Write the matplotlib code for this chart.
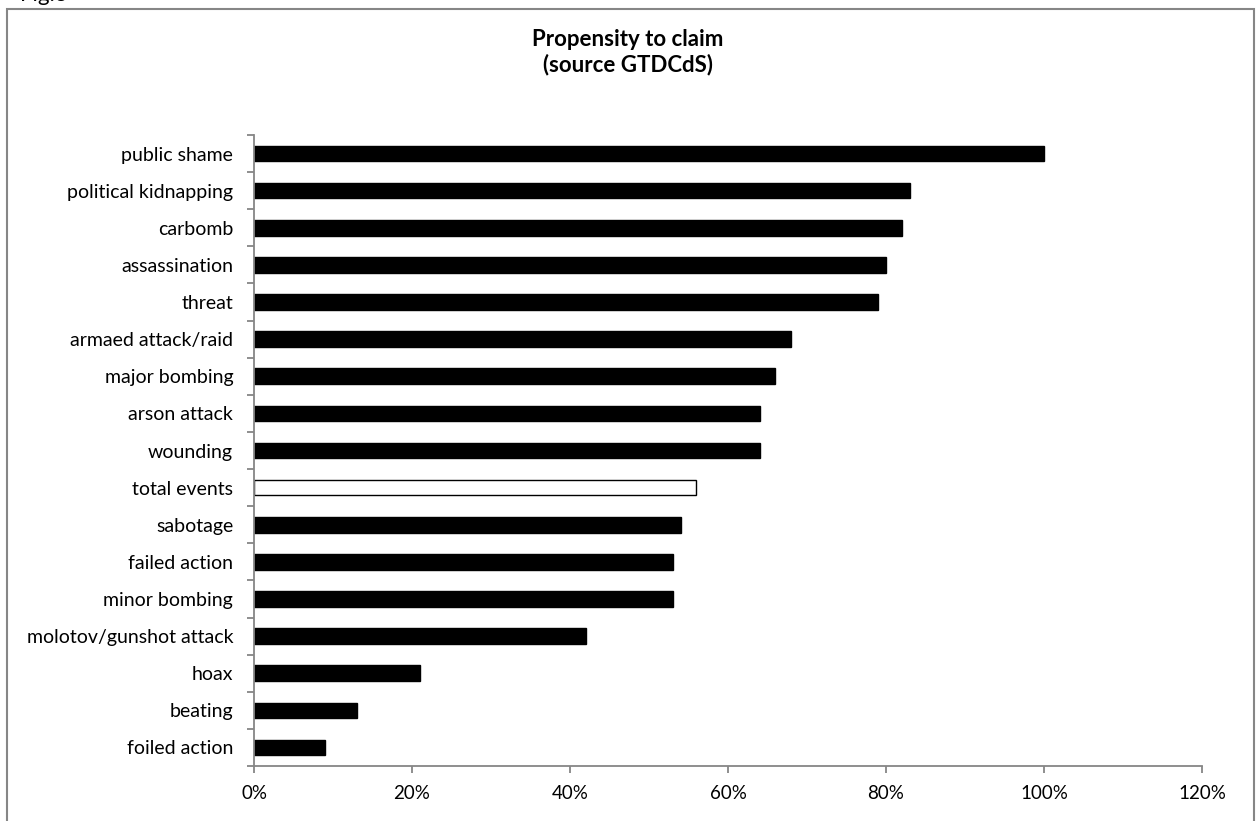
import matplotlib
matplotlib.use("Agg")
import matplotlib.pyplot as plt
from matplotlib.patches import Rectangle
from matplotlib.ticker import PercentFormatter
import numpy as np

plt.rcParams['font.family'] = ['Lato', 'DejaVu Sans']

# top to bottom as in the chart
categories = ['public shame', 'political kidnapping', 'carbomb', 'assassination',
              'threat', 'armaed attack/raid', 'major bombing', 'arson attack',
              'wounding', 'total events', 'sabotage', 'failed action',
              'minor bombing', 'molotov/gunshot attack', 'hoax', 'beating',
              'foiled action']
claim_share = [1.00, 0.83, 0.82, 0.80, 0.79, 0.68, 0.66, 0.64, 0.64, 0.56,
               0.54, 0.53, 0.53, 0.42, 0.21, 0.13, 0.09]
highlight = 'total events'

W, H = 1257, 821
fig = plt.figure(figsize=(W / 100, H / 100), dpi=100)
ax = fig.add_axes([254 / W, 55 / H, 948 / W, 631 / H])

grey = '#868686'
y = np.arange(len(categories))[::-1]
colors = ['white' if c == highlight else 'black' for c in categories]
ax.barh(y, claim_share, height=0.42, color=colors, edgecolor='black', linewidth=1.0)

ax.set_xlim(0, 1.2)
ax.set_ylim(-0.5, len(categories) - 0.5)
ax.set_xticks(np.arange(0, 1.21, 0.2))
ax.xaxis.set_major_formatter(PercentFormatter(1.0, decimals=0))
ax.set_yticks(y)
ax.set_yticklabels(categories)
ax.set_yticks(np.arange(-0.5, len(categories), 1.0), minor=True)

ax.tick_params(axis='y', which='major', length=0, pad=15, labelsize=14)
ax.tick_params(axis='y', which='minor', length=5, width=1.3, color=grey)
ax.tick_params(axis='x', length=5, width=1.3, color=grey, pad=9, labelsize=13.5)

for s in ['top', 'right']:
    ax.spines[s].set_visible(False)
for s in ['left', 'bottom']:
    ax.spines[s].set_color(grey)
    ax.spines[s].set_linewidth(1.3)

fig.text(628 / W, 1 - 39 / H, 'Propensity to claim', ha='center', va='center',
         fontsize=16, fontweight='bold')
fig.text(628 / W, 1 - 65 / H, '(source GTDCdS)', ha='center', va='center',
         fontsize=16, fontweight='bold')

# caption, mostly cut off by the top edge
fig.text(20 / W, 1 - 1 / H, 'Fig.3', ha='left', va='baseline', fontsize=16)

frame = Rectangle((7 / W, -0.05), 1247 / W, 1.05 - 9 / H, transform=fig.transFigure,
                  fill=False, edgecolor=grey, linewidth=1.5, clip_on=False)
fig.patches.append(frame)

fig.savefig('out.png', dpi=100)
